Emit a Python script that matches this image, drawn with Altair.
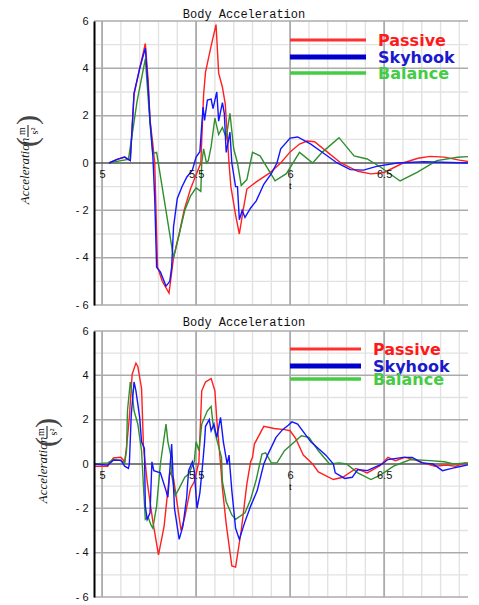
import altair as alt
import pandas as pd

SERIES = ["Passive", "Skyhook", "Balance"]
CURVE_COLORS = {"Passive": "#ff1f1f", "Skyhook": "#1414ff", "Balance": "#2f8f2f"}
LEGEND_LINE = {"Passive": "#ff3030", "Skyhook": "#0000cc", "Balance": "#44cc44"}
LEGEND_TEXT = {"Passive": "#ff1a1a", "Skyhook": "#1a1acc", "Balance": "#44cc44"}

TITLE = "Body Acceleration"
X_TICKS = [5, 5.5, 6, 6.5]
Y_TICKS = [-6, -4, -2, 0, 2, 4, 6]
MAJOR_X = [5, 5.5, 6, 6.5]
MINOR_X = [5.1, 5.2, 5.3, 5.4, 5.6, 5.7, 5.8, 5.9, 6.1, 6.2, 6.3, 6.4, 6.6, 6.7, 6.8, 6.9]
MAJOR_Y = [-6, -4, -2, 2, 4, 6]
MINOR_Y = [-5, -3, -1, 1, 3, 5]
ZERO = [0]

# ---------------- top panel ----------------
top_passive_t = [5.037, 5.08, 5.12, 5.15, 5.17, 5.20, 5.23, 5.245, 5.255, 5.27, 5.28, 5.295, 5.32, 5.356,
                 5.38, 5.41, 5.436, 5.47, 5.50, 5.525, 5.54, 5.55, 5.58, 5.606, 5.62, 5.64, 5.655, 5.675,
                 5.685, 5.71, 5.73, 5.75, 5.77, 5.82, 5.89, 5.95, 6.0, 6.05, 6.09, 6.13, 6.2, 6.27, 6.36,
                 6.43, 6.5, 6.6, 6.68, 6.745, 6.82, 6.9, 6.96, 7.0]
top_passive_v = [0, 0.15, 0.25, 0.1, 2.9, 4.0, 5.05, 3.5, 1.8, 0.8, 0, -4.4, -5.0, -5.5,
                 -4.0, -3.0, -2.0, -1.1, -0.5, 0, 2.9, 3.84, 4.95, 5.85, 3.8, 3.2, 2.5, 0,
                 -1.0, -2.2, -3.0, -2.0, -1.1, -0.8, -0.43, 0, 0.47, 0.8, 0.93, 0.9, 0.45, 0.0, -0.35,
                 -0.46, -0.4, 0, 0.2, 0.28, 0.25, 0.12, 0.05, 0.0]

top_skyhook_t = [5.037, 5.08, 5.12, 5.15, 5.17, 5.20, 5.23, 5.245, 5.255, 5.27, 5.28, 5.29, 5.31, 5.34,
                 5.36, 5.37, 5.38, 5.40, 5.425, 5.45, 5.48, 5.50, 5.52, 5.537, 5.545, 5.56, 5.58, 5.59,
                 5.61, 5.62, 5.64, 5.65, 5.66, 5.68, 5.69, 5.71, 5.72, 5.73, 5.745, 5.76, 5.79, 5.82,
                 5.86, 5.90, 5.93, 5.95, 6.0, 6.04, 6.11, 6.18, 6.25, 6.32, 6.39, 6.46, 6.57, 6.71, 6.96]
top_skyhook_v = [0, 0.15, 0.25, 0.1, 2.95, 4.0, 4.85, 3.2, 1.8, 0.3, -1.5, -4.4, -4.6, -5.2,
                 -5.0, -4.4, -2.7, -1.5, -1.0, -0.6, -0.3, 0.25, 0.48, 2.36, 1.8, 2.66, 2.7, 2.3,
                 3.0, 1.77, 2.55, 2.1, 0.45, 1.3, 0.0, -1.0, -1.0, -2.4, -2.0, -2.3, -1.9, -1.6,
                 -0.9, -0.45, 0, 0.6, 1.05, 1.1, 0.8, 0.4, 0, -0.28, -0.3, -0.14, 0, 0.05, 0.0]

top_balance_t = [5.037, 5.1, 5.14, 5.16, 5.186, 5.23, 5.255, 5.27, 5.29, 5.38, 5.41, 5.44, 5.47, 5.50,
                 5.525, 5.53, 5.54, 5.555, 5.565, 5.58, 5.60, 5.62, 5.64, 5.66, 5.68, 5.70, 5.72, 5.74,
                 5.77, 5.80, 5.84, 5.89, 5.92, 5.98, 6.05, 6.12, 6.17, 6.26, 6.34, 6.41, 6.48, 6.585,
                 6.675, 6.78, 6.89, 7.0]
top_balance_v = [0, 0.1, 0.15, 1.2, 2.6, 4.4, 1.65, 0.4, 0.45, -4.0, -3.0, -2.0, -1.4, -1.05,
                 -1.2, 0, 0.6, 0, 0.1, 0.7, 1.9, 1.2, 1.5, 1.07, 2.1, 0.6, 0, -0.95,
                 -0.7, 0.45, 0.3, -0.35, -0.75, -0.45, 0.45, 0, 0.45, 1.07, 0.3, 0.17, -0.17, -0.76,
                 -0.4, 0.1, 0.24, 0.3]

# ---------------- bottom panel ----------------
bot_passive_t = [4.96, 5.03, 5.06, 5.10, 5.12, 5.13, 5.145, 5.16, 5.18, 5.19, 5.21, 5.22, 5.24, 5.27,
                 5.30, 5.33, 5.36, 5.38, 5.42, 5.44, 5.47, 5.49, 5.515, 5.53, 5.55, 5.58, 5.60, 5.61,
                 5.63, 5.64, 5.66, 5.69, 5.71, 5.74, 5.77, 5.79, 5.80, 5.81, 5.86, 5.915, 5.97, 6.0,
                 6.03, 6.07, 6.12, 6.15, 6.23, 6.28, 6.35, 6.41, 6.48, 6.52, 6.56, 6.61, 6.66, 6.71,
                 6.77, 6.83, 6.88, 6.93, 6.97, 7.0]
bot_passive_v = [-0.1, -0.1, 0.27, 0.3, 0.1, 0.75, 2.1, 4.05, 4.55, 4.4, 3.4, 0.8, -0.8, -2.6,
                 -4.1, -2.8, -0.36, -0.65, -3.0, -2.4, -1.1, -0.8, 0.1, 3.3, 3.7, 3.85, 3.3, 2.0,
                 0, -1.1, -2.7, -4.6, -4.65, -3.0, -0.9, 0.1, 0.3, 0.9, 1.7, 1.6, 1.55, 1.5,
                 1.15, 0.4, 0.0, -0.36, -0.7, -0.6, -0.2, -0.4, -0.07, 0.3, 0.15, 0.3, 0.2, 0.05,
                 -0.1, -0.05, -0.1, 0.05, 0.0, 0.05]

bot_skyhook_t = [4.96, 5.03, 5.06, 5.10, 5.12, 5.14, 5.145, 5.155, 5.17, 5.18, 5.20, 5.21, 5.225, 5.23,
                 5.24, 5.255, 5.265, 5.275, 5.31, 5.34, 5.35, 5.37, 5.385, 5.41, 5.43, 5.45, 5.46, 5.48,
                 5.49, 5.505, 5.52, 5.535, 5.545, 5.55, 5.57, 5.58, 5.595, 5.61, 5.63, 5.645, 5.665, 5.675,
                 5.69, 5.71, 5.73, 5.76, 5.79, 5.825, 5.86, 5.88, 5.925, 5.96, 5.99, 6.01, 6.04, 6.11,
                 6.19, 6.23, 6.24, 6.29, 6.33, 6.36, 6.41, 6.49, 6.52, 6.6, 6.65, 6.7, 6.76, 6.81,
                 6.86, 6.91, 6.97, 7.0]
bot_skyhook_v = [0, -0.05, 0.17, 0.17, -0.1, -0.2, 0, 2.2, 3.7, 3.3, 2.1, 1.0, 0.7, -1.9,
                 -2.5, -2.2, 0.1, -0.3, -0.4, -1.2, -1.5, 0.9, -2.0, -3.4, -2.8, -1.5, -0.3, 0.1,
                 -0.3, -2.0, -1.3, 0, 1.0, 1.7, 2.0, 1.5, 1.8, 1.2, 2.1, 1.0, 0, 0.4,
                 -1.2, -2.9, -3.4, -2.6, -1.9, -1.2, 0, 0.4, 1.2, 1.55, 1.75, 1.9, 1.8, 1.0,
                 0.4, 0, -0.4, -0.65, -0.6, -0.25, -0.3, 0, 0.2, 0.3, 0.3, 0.05, 0, -0.3,
                 -0.2, -0.1, 0, 0]

bot_balance_t = [4.96, 5.03, 5.06, 5.10, 5.12, 5.13, 5.135, 5.15, 5.16, 5.17, 5.19, 5.21, 5.22, 5.23,
                 5.245, 5.26, 5.27, 5.29, 5.31, 5.34, 5.35, 5.365, 5.37, 5.39, 5.41, 5.44, 5.46, 5.49,
                 5.50, 5.515, 5.53, 5.56, 5.58, 5.59, 5.61, 5.635, 5.64, 5.66, 5.69, 5.71, 5.76, 5.79,
                 5.82, 5.85, 5.87, 5.90, 5.93, 5.97, 6.06, 6.10, 6.15, 6.21, 6.26, 6.30, 6.36, 6.43,
                 6.48, 6.55, 6.64, 6.745, 6.82, 6.87, 6.94, 7.0]
bot_balance_v = [0, 0.05, 0.2, 0.15, 0.05, 0.6, 2.4, 3.7, 3.2, 2.4, 1.8, 0.6, -1.0, -2.5,
                 -2.4, -2.75, -2.9, -1.9, 0, 1.8, 1.0, 0.4, -0.5, -1.4, -1.1, -0.6, -0.45, 0.1,
                 1.0, 0.6, 1.8, 2.4, 2.6, 1.8, 1.1, 0.3, -0.8, -1.7, -2.3, -2.5, -2.2, -1.6,
                 -0.7, 0.45, 0.5, 0.05, 0.05, 0.6, 1.27, 1.2, 0.6, 0.0, 0.05, 0.0, -0.4, -0.7,
                 -0.5, -0.1, 0.2, 0.15, 0.1, 0, 0.05, 0]

X_DOMAIN = [4.957, 6.946]
WIDTH = 374


def panel(curves, height, legend_ys, legend_x, text_x, ytitle, title_y):
    xs = alt.Scale(domain=X_DOMAIN, nice=False, zero=False)
    ys = alt.Scale(domain=[-6, 6], nice=False, zero=False)
    x_axis = alt.Axis(values=X_TICKS, format="~g", grid=False, domain=False, ticks=False,
                      offset=-height / 2, labelPadding=5, labelFontSize=11,
                      labelFont="Liberation Sans", labelColor="#111", labelFlush=False,
                      title="t", titleFontSize=10, titleFont="Liberation Serif",
                      titleFontWeight="normal", titlePadding=1, titleX=196, zindex=1)
    y_axis = alt.Axis(values=Y_TICKS, grid=False, ticks=False, domain=True, domainColor="black",
                      domainWidth=2, labelPadding=6, labelFontSize=11, labelFont="Liberation Sans",
                      labelColor="#111", labelFlush=False,
                      labelExpr="datum.value < 0 ? '- ' + abs(datum.value) : '' + datum.value",
                      title=None, zindex=1)
    X = lambda f: alt.X(f, scale=xs, axis=x_axis)
    Y = lambda f: alt.Y(f, scale=ys, axis=y_axis)

    layers = [
        alt.Chart(pd.DataFrame({"t": MINOR_X})).mark_rule(color="#e2e2e2", strokeWidth=1.4).encode(x=X("t:Q")),
        alt.Chart(pd.DataFrame({"a": MINOR_Y})).mark_rule(color="#e2e2e2", strokeWidth=1.4).encode(y=Y("a:Q")),
        alt.Chart(pd.DataFrame({"t": MAJOR_X})).mark_rule(color="#ababab", strokeWidth=1.8).encode(x=X("t:Q")),
        alt.Chart(pd.DataFrame({"a": MAJOR_Y})).mark_rule(color="#ababab", strokeWidth=1.5).encode(y=Y("a:Q")),
        alt.Chart(pd.DataFrame({"a": ZERO})).mark_rule(color="#555555", strokeWidth=1.6).encode(y=Y("a:Q")),
    ]
    for name in ["Passive", "Balance", "Skyhook"]:
        t, v = curves[name]
        df = pd.DataFrame({"t": t, "a": v})
        layers.append(
            alt.Chart(df).mark_line(color=CURVE_COLORS[name], strokeWidth=1.4, clip=True,
                                    interpolate="linear").encode(x=X("t:Q"), y=Y("a:Q"), order="t:Q")
        )
    widths = {"Passive": 3, "Skyhook": 5, "Balance": 3.5}
    for name, ly in zip(SERIES, legend_ys):
        d = pd.DataFrame({"s": [name]})
        layers.append(alt.Chart(d).mark_rule(color=LEGEND_LINE[name], strokeWidth=widths[name]).encode(
            x=alt.value(legend_x[0]), x2=alt.value(legend_x[1]), y=alt.value(ly)))
        layers.append(alt.Chart(d).mark_text(align="left", baseline="middle", font="DejaVu Sans",
                                             fontWeight="bold", fontSize=16, clip=True,
                                             color=LEGEND_TEXT[name]).encode(
            x=alt.value(text_x), y=alt.value(ly + 1), text="s:N"))

    # panel title
    layers.append(alt.Chart(pd.DataFrame({"s": [TITLE]})).mark_text(
        font="Liberation Mono", fontSize=12, color="#111", align="center", baseline="middle").encode(
        x=alt.value(150), y=alt.value(title_y), text="s:N"))

    # y axis title: Acceleration (m / s^2)
    ax, ay, px, py_top, py_bot, fy = ytitle
    layers.append(alt.Chart(pd.DataFrame({"s": ["Acceleration"]})).mark_text(
        angle=270, font="Liberation Serif", fontStyle="italic", fontSize=13, color="#111",
        align="center", baseline="middle").encode(x=alt.value(ax), y=alt.value(ay), text="s:N"))
    layers.append(alt.Chart(pd.DataFrame({"s": ["("]})).mark_text(
        angle=270, font="Liberation Serif", fontSize=30, color="#444", align="center",
        baseline="middle").encode(x=alt.value(px), y=alt.value(py_bot), text="s:N"))
    layers.append(alt.Chart(pd.DataFrame({"s": [")"]})).mark_text(
        angle=270, font="Liberation Serif", fontSize=30, color="#444", align="center",
        baseline="middle").encode(x=alt.value(px), y=alt.value(py_top), text="s:N"))
    layers.append(alt.Chart(pd.DataFrame({"s": ["m"]})).mark_text(
        angle=270, font="Liberation Serif", fontSize=10, color="#111", align="center",
        baseline="middle").encode(x=alt.value(px - 6), y=alt.value(fy), text="s:N"))
    layers.append(alt.Chart(pd.DataFrame({"s": ["s²"]})).mark_text(
        angle=270, font="Liberation Serif", fontSize=10, color="#111", align="center",
        baseline="middle").encode(x=alt.value(px + 7), y=alt.value(fy), text="s:N"))
    layers.append(alt.Chart(pd.DataFrame({"s": ["bar"]})).mark_rule(color="#111", strokeWidth=1).encode(
        x=alt.value(px), y=alt.value(fy - 6), y2=alt.value(fy + 6)))

    return alt.layer(*layers).properties(width=WIDTH, height=height)


top = panel(
    {"Passive": (top_passive_t, top_passive_v), "Skyhook": (top_skyhook_t, top_skyhook_v),
     "Balance": (top_balance_t, top_balance_v)},
    284, [19, 36, 52], (196, 272), 284,
    (-69, 150, -66, 99, 121, 110), -7,
)
bottom = panel(
    {"Passive": (bot_passive_t, bot_passive_v), "Skyhook": (bot_skyhook_t, bot_skyhook_v),
     "Balance": (bot_balance_t, bot_balance_v)},
    266, [18, 35, 48], (196, 267), 279,
    (-51, 139, -47, 92, 111, 101), -9,
)

chart = alt.vconcat(top, bottom, spacing=6).properties(
    padding={"left": 5, "top": 0, "right": 0, "bottom": 0},
    background="white",
).configure_view(stroke=None)

chart.save("out.html", embed_options={"renderer": "svg", "actions": False})
